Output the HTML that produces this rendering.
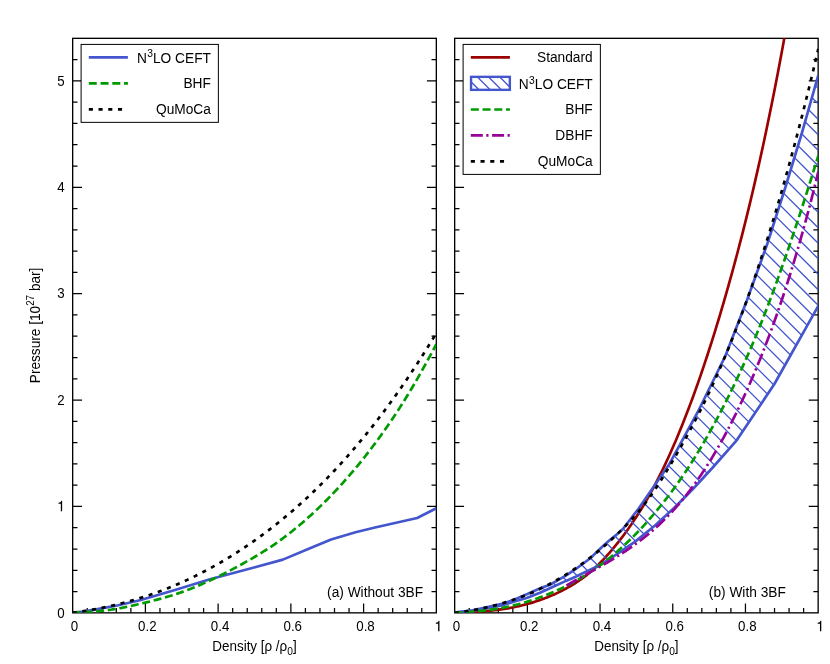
<!DOCTYPE html>
<html><head><meta charset="utf-8"><title>Pressure vs density</title>
<style>html,body{margin:0;padding:0;background:#fff;}svg{display:block;will-change:transform;opacity:0.999;}text{font-family:"Liberation Sans",sans-serif;fill:#000;}.t{font-size:13.33px;}.l{font-size:14.67px;}</style></head><body>
<svg width="830" height="664" viewBox="0 0 830 664">
<rect width="830" height="664" fill="#fff"/>
<defs>
<clipPath id="c1"><rect x="72.67" y="38.33" width="363.66" height="574.52"/></clipPath>
<clipPath id="c2"><rect x="454.67" y="38.33" width="363.48" height="574.52"/></clipPath>
<clipPath id="band"><path d="M454.67,612.67 L456.49,612.44 L458.31,612.20 L460.12,611.97 L461.94,611.73 L463.76,611.50 L465.58,611.27 L467.40,611.03 L469.22,610.80 L471.03,610.56 L472.85,610.33 L474.67,609.93 L476.49,609.52 L478.31,609.12 L480.13,608.71 L481.94,608.31 L483.76,607.91 L485.58,607.50 L487.40,607.10 L489.22,606.69 L491.04,606.29 L492.85,605.89 L494.67,605.49 L496.49,605.09 L498.31,604.69 L500.13,604.29 L501.95,603.90 L503.76,603.27 L505.58,602.64 L507.40,602.01 L509.22,601.38 L511.04,600.75 L512.86,600.12 L514.67,599.36 L516.49,598.60 L518.31,597.85 L520.13,597.09 L521.95,596.33 L523.77,595.57 L525.58,594.81 L527.40,594.06 L529.22,593.23 L531.04,592.41 L532.86,591.58 L534.68,590.76 L536.49,589.94 L538.31,589.11 L540.13,588.29 L541.95,587.46 L543.77,586.87 L545.59,586.27 L547.40,585.67 L549.22,585.08 L551.04,584.09 L552.86,583.07 L554.68,582.04 L556.49,581.01 L558.31,579.98 L560.13,578.94 L561.95,577.89 L563.77,576.84 L565.59,575.80 L567.40,574.64 L569.22,573.41 L571.04,572.18 L572.86,570.96 L574.68,569.71 L576.50,568.42 L578.31,567.12 L580.13,565.83 L581.95,564.54 L583.77,563.16 L585.59,561.77 L587.41,560.38 L589.22,558.99 L591.04,557.46 L592.86,555.76 L594.68,554.05 L596.50,552.35 L598.32,550.63 L600.13,548.85 L601.95,547.08 L603.77,545.45 L605.59,543.83 L607.41,542.22 L609.23,540.60 L611.04,539.13 L612.86,537.68 L614.68,536.23 L616.50,534.78 L618.32,533.14 L620.14,531.48 L621.95,529.83 L623.77,527.82 L625.59,525.47 L627.41,523.11 L629.23,520.76 L631.05,518.41 L632.86,516.05 L634.68,513.70 L636.50,511.35 L638.32,508.99 L640.14,506.39 L641.95,503.75 L643.77,501.12 L645.59,498.48 L647.41,495.85 L649.23,493.22 L651.05,490.58 L652.86,487.95 L654.68,485.31 L656.50,482.68 L658.32,480.05 L660.14,477.41 L661.96,474.78 L663.77,472.14 L665.59,469.51 L667.41,466.88 L669.23,464.24 L671.05,460.98 L672.87,457.65 L674.68,454.32 L676.50,450.98 L678.32,447.65 L680.14,444.32 L681.96,440.99 L683.78,437.66 L685.59,434.32 L687.41,430.99 L689.23,427.66 L691.05,424.33 L692.87,421.00 L694.69,417.66 L696.50,414.33 L698.32,410.89 L700.14,407.20 L701.96,403.50 L703.78,399.81 L705.60,396.12 L707.41,392.42 L709.23,388.73 L711.05,385.04 L712.87,381.34 L714.69,377.65 L716.51,373.95 L718.32,370.26 L720.14,366.57 L721.96,362.87 L723.78,359.18 L725.60,355.35 L727.41,350.66 L729.23,345.97 L731.05,341.28 L732.87,336.59 L734.69,331.90 L736.51,327.21 L738.32,322.52 L740.14,317.83 L741.96,313.14 L743.78,308.45 L745.60,303.76 L747.42,298.99 L749.23,293.95 L751.05,288.90 L752.87,283.86 L754.69,278.81 L756.51,273.77 L758.33,268.73 L760.14,263.68 L761.96,258.64 L763.78,253.59 L765.60,248.55 L767.42,243.44 L769.24,237.76 L771.05,232.08 L772.87,226.40 L774.69,220.72 L776.51,215.04 L778.33,209.36 L780.15,203.68 L781.96,198.00 L783.78,192.32 L785.60,186.57 L787.42,180.59 L789.24,174.61 L791.06,168.62 L792.87,162.64 L794.69,156.66 L796.51,150.67 L798.33,144.69 L800.15,138.71 L801.97,132.73 L803.78,126.36 L805.60,119.94 L807.42,113.53 L809.24,107.11 L811.06,100.69 L812.88,94.27 L814.69,87.86 L816.51,81.44 L818.33,75.02 L818.33,305.82 L816.51,309.06 L814.69,312.29 L812.88,315.53 L811.06,318.77 L809.24,322.00 L807.42,325.24 L805.60,328.47 L803.78,331.71 L801.97,334.95 L800.15,338.18 L798.33,341.42 L796.51,344.66 L794.69,347.89 L792.87,351.13 L791.06,354.36 L789.24,357.60 L787.42,360.84 L785.60,364.07 L783.78,367.31 L781.96,370.54 L780.15,373.78 L778.33,377.02 L776.51,380.25 L774.69,383.49 L772.87,386.29 L771.05,389.00 L769.24,391.71 L767.42,394.42 L765.60,397.14 L763.78,399.85 L761.96,402.56 L760.14,405.28 L758.33,407.99 L756.51,410.70 L754.69,413.42 L752.87,416.13 L751.05,418.84 L749.23,421.56 L747.42,424.27 L745.60,426.98 L743.78,429.70 L741.96,432.41 L740.14,435.12 L738.32,437.83 L736.51,440.42 L734.69,442.49 L732.87,444.56 L731.05,446.63 L729.23,448.70 L727.41,450.77 L725.60,452.84 L723.78,454.91 L721.96,456.98 L720.14,459.05 L718.32,461.12 L716.51,463.20 L714.69,465.27 L712.87,467.34 L711.05,469.34 L709.23,471.32 L707.41,473.29 L705.60,475.26 L703.78,477.24 L701.96,479.21 L700.14,481.18 L698.32,483.16 L696.50,485.13 L694.69,487.09 L692.87,488.96 L691.05,490.84 L689.23,492.71 L687.41,494.58 L685.59,496.46 L683.78,498.29 L681.96,500.11 L680.14,501.92 L678.32,503.73 L676.50,505.55 L674.68,507.36 L672.87,509.08 L671.05,510.75 L669.23,512.43 L667.41,514.10 L665.59,515.77 L663.77,517.45 L661.96,519.12 L660.14,520.79 L658.32,522.46 L656.50,524.14 L654.68,525.77 L652.86,527.25 L651.05,528.74 L649.23,530.22 L647.41,531.70 L645.59,533.18 L643.77,534.66 L641.95,536.14 L640.14,537.62 L638.32,539.10 L636.50,540.58 L634.68,541.96 L632.86,543.20 L631.05,544.45 L629.23,545.70 L627.41,546.94 L625.59,548.19 L623.77,549.43 L621.95,550.68 L620.14,551.93 L618.32,553.13 L616.50,554.31 L614.68,555.49 L612.86,556.67 L611.04,557.85 L609.23,559.03 L607.41,560.21 L605.59,561.39 L603.77,562.57 L601.95,563.75 L600.13,564.93 L598.32,565.84 L596.50,566.73 L594.68,567.61 L592.86,568.44 L591.04,569.27 L589.22,570.10 L587.41,570.92 L585.59,571.81 L583.77,572.73 L581.95,573.64 L580.13,574.55 L578.31,575.46 L576.50,576.37 L574.68,577.17 L572.86,577.95 L571.04,578.73 L569.22,579.51 L567.40,580.29 L565.59,581.08 L563.77,581.91 L561.95,582.74 L560.13,583.57 L558.31,584.40 L556.49,585.23 L554.68,586.06 L552.86,586.89 L551.04,587.72 L549.22,588.55 L547.40,589.38 L545.59,590.22 L543.77,591.05 L541.95,591.88 L540.13,592.71 L538.31,593.45 L536.49,594.17 L534.68,594.89 L532.86,595.61 L531.04,596.33 L529.22,597.06 L527.40,597.78 L525.58,598.31 L523.77,598.84 L521.95,599.38 L520.13,599.91 L518.31,600.44 L516.49,600.97 L514.67,601.50 L512.86,602.03 L511.04,602.60 L509.22,603.17 L507.40,603.74 L505.58,604.30 L503.76,604.87 L501.95,605.44 L500.13,605.79 L498.31,606.15 L496.49,606.50 L494.67,606.86 L492.85,607.21 L491.04,607.56 L489.22,607.88 L487.40,608.20 L485.58,608.52 L483.76,608.84 L481.94,609.16 L480.13,609.48 L478.31,609.80 L476.49,610.12 L474.67,610.44 L472.85,610.76 L471.03,610.95 L469.22,611.14 L467.40,611.33 L465.58,611.52 L463.76,611.71 L461.94,611.90 L460.12,612.10 L458.31,612.29 L456.49,612.48 L454.67,612.67Z"/></clipPath>
<clipPath id="lp"><rect x="471.2" y="76.8" width="38.6" height="12.8"/></clipPath>
</defs>
<path d="M87.22,612.85v-4.80M101.76,612.85v-4.80M116.31,612.85v-4.80M130.86,612.85v-4.80M145.40,612.85v-9.40M159.95,612.85v-4.80M174.49,612.85v-4.80M189.04,612.85v-4.80M203.59,612.85v-4.80M218.13,612.85v-9.40M232.68,612.85v-4.80M247.23,612.85v-4.80M261.77,612.85v-4.80M276.32,612.85v-4.80M290.87,612.85v-9.40M305.41,612.85v-4.80M319.96,612.85v-4.80M334.51,612.85v-4.80M349.05,612.85v-4.80M363.60,612.85v-9.40M378.14,612.85v-4.80M392.69,612.85v-4.80M407.24,612.85v-4.80M421.78,612.85v-4.80M72.67,591.57h4.80M436.33,591.57h-4.80M72.67,570.29h4.80M436.33,570.29h-4.80M72.67,549.01h4.80M436.33,549.01h-4.80M72.67,527.74h4.80M436.33,527.74h-4.80M72.67,506.46h9.40M436.33,506.46h-9.40M72.67,485.18h4.80M436.33,485.18h-4.80M72.67,463.90h4.80M436.33,463.90h-4.80M72.67,442.62h4.80M436.33,442.62h-4.80M72.67,421.34h4.80M436.33,421.34h-4.80M72.67,400.06h9.40M436.33,400.06h-9.40M72.67,378.79h4.80M436.33,378.79h-4.80M72.67,357.51h4.80M436.33,357.51h-4.80M72.67,336.23h4.80M436.33,336.23h-4.80M72.67,314.95h4.80M436.33,314.95h-4.80M72.67,293.67h9.40M436.33,293.67h-9.40M72.67,272.39h4.80M436.33,272.39h-4.80M72.67,251.12h4.80M436.33,251.12h-4.80M72.67,229.84h4.80M436.33,229.84h-4.80M72.67,208.56h4.80M436.33,208.56h-4.80M72.67,187.28h9.40M436.33,187.28h-9.40M72.67,166.00h4.80M436.33,166.00h-4.80M72.67,144.72h4.80M436.33,144.72h-4.80M72.67,123.44h4.80M436.33,123.44h-4.80M72.67,102.17h4.80M436.33,102.17h-4.80M72.67,80.89h9.40M436.33,80.89h-9.40M72.67,59.61h4.80M436.33,59.61h-4.80" stroke="#000" stroke-width="1.25" fill="none"/>
<rect x="72.67" y="38.33" width="363.66" height="574.52" fill="none" stroke="#000" stroke-width="1.33"/>
<text transform="translate(74.57,631.20) scale(1.000,1.100)" text-anchor="middle" class="t">0</text>
<text transform="translate(147.30,631.20) scale(1.000,1.100)" text-anchor="middle" class="t">0.2</text>
<text transform="translate(220.03,631.20) scale(1.000,1.100)" text-anchor="middle" class="t">0.4</text>
<text transform="translate(292.77,631.20) scale(1.000,1.100)" text-anchor="middle" class="t">0.6</text>
<text transform="translate(365.50,631.20) scale(1.000,1.100)" text-anchor="middle" class="t">0.8</text>
<path transform="translate(434.52,631.20) scale(0.01333,-0.01466)" d="M272,0 L371,0 L371,709 L312,709 C290,625 215,578 98,570 L98,507 L272,507 Z" fill="#000"/>
<text transform="translate(254.50,650.6) scale(0.915,1)" text-anchor="middle" class="l">Density [&#961; /&#961;<tspan dy="4.6" font-size="11.2px">0</tspan><tspan dy="-4.6">]</tspan></text>
<path d="M72.67,612.67 L83.58,611.61 L98.89,608.84 L118.20,605.30 L139.98,600.28 L175.00,589.96 L209.99,579.20 L255.01,567.25 L282.87,559.64 L309.99,548.29 L331.09,539.43 L355.56,532.27 L375.02,527.48 L417.17,517.96 L436.33,508.22" fill="none" stroke="#4456cd" stroke-width="2.67" stroke-linejoin="round" clip-path="url(#c1)"/>
<path d="M72.67,612.67 L74.49,612.59 L76.31,612.51 L78.12,612.42 L79.94,612.34 L81.76,612.25 L83.58,612.15 L85.40,612.05 L87.22,611.95 L89.03,611.84 L90.85,611.72 L92.67,611.59 L94.49,611.46 L96.31,611.31 L98.13,611.16 L99.94,610.99 L101.76,610.81 L103.58,610.62 L105.40,610.41 L107.22,610.19 L109.04,609.96 L110.85,609.71 L112.67,609.44 L114.49,609.15 L116.31,608.85 L118.13,608.53 L119.95,608.20 L121.76,607.85 L123.58,607.49 L125.40,607.12 L127.22,606.74 L129.04,606.35 L130.86,605.95 L132.67,605.54 L134.49,605.13 L136.31,604.71 L138.13,604.29 L139.95,603.87 L141.77,603.44 L143.58,603.01 L145.40,602.58 L147.22,602.14 L149.04,601.69 L150.86,601.24 L152.68,600.78 L154.49,600.32 L156.31,599.84 L158.13,599.36 L159.95,598.87 L161.77,598.37 L163.59,597.86 L165.40,597.35 L167.22,596.81 L169.04,596.27 L170.86,595.72 L172.68,595.15 L174.49,594.57 L176.31,593.98 L178.13,593.38 L179.95,592.75 L181.77,592.12 L183.59,591.47 L185.40,590.80 L187.22,590.12 L189.04,589.43 L190.86,588.72 L192.68,588.00 L194.50,587.26 L196.31,586.52 L198.13,585.76 L199.95,584.98 L201.77,584.20 L203.59,583.40 L205.41,582.59 L207.22,581.77 L209.04,580.93 L210.86,580.09 L212.68,579.23 L214.50,578.37 L216.32,577.49 L218.13,576.60 L219.95,575.70 L221.77,574.80 L223.59,573.88 L225.41,572.95 L227.23,572.02 L229.04,571.07 L230.86,570.12 L232.68,569.15 L234.50,568.18 L236.32,567.21 L238.14,566.22 L239.95,565.22 L241.77,564.22 L243.59,563.21 L245.41,562.20 L247.23,561.18 L249.05,560.14 L250.86,559.10 L252.68,558.05 L254.50,556.99 L256.32,555.91 L258.14,554.82 L259.95,553.72 L261.77,552.60 L263.59,551.47 L265.41,550.32 L267.23,549.16 L269.05,547.97 L270.86,546.77 L272.68,545.55 L274.50,544.31 L276.32,543.05 L278.14,541.76 L279.96,540.46 L281.77,539.14 L283.59,537.79 L285.41,536.43 L287.23,535.05 L289.05,533.64 L290.87,532.22 L292.68,530.77 L294.50,529.31 L296.32,527.82 L298.14,526.31 L299.96,524.79 L301.78,523.24 L303.59,521.67 L305.41,520.09 L307.23,518.48 L309.05,516.85 L310.87,515.20 L312.69,513.53 L314.50,511.84 L316.32,510.13 L318.14,508.40 L319.96,506.65 L321.78,504.88 L323.60,503.09 L325.41,501.28 L327.23,499.45 L329.05,497.60 L330.87,495.72 L332.69,493.83 L334.51,491.91 L336.32,489.98 L338.14,488.02 L339.96,486.04 L341.78,484.04 L343.60,482.02 L345.42,479.98 L347.23,477.91 L349.05,475.82 L350.87,473.71 L352.69,471.58 L354.51,469.42 L356.32,467.24 L358.14,465.04 L359.96,462.81 L361.78,460.56 L363.60,458.29 L365.42,455.99 L367.23,453.67 L369.05,451.32 L370.87,448.95 L372.69,446.55 L374.51,444.13 L376.33,441.68 L378.14,439.21 L379.96,436.71 L381.78,434.19 L383.60,431.64 L385.42,429.07 L387.24,426.46 L389.05,423.83 L390.87,421.17 L392.69,418.48 L394.51,415.75 L396.33,413.00 L398.15,410.22 L399.96,407.40 L401.78,404.55 L403.60,401.66 L405.42,398.75 L407.24,395.79 L409.06,392.80 L410.87,389.78 L412.69,386.72 L414.51,383.61 L416.33,380.48 L418.15,377.31 L419.97,374.11 L421.78,370.88 L423.60,367.62 L425.42,364.34 L427.24,361.03 L429.06,357.71 L430.88,354.37 L432.69,351.01 L434.51,347.64 L436.33,344.25" fill="none" stroke="#009a00" stroke-width="2.67" stroke-linejoin="round" stroke-dasharray="8 3.73" clip-path="url(#c1)"/>
<path d="M72.67,612.67 L74.49,612.44 L76.31,612.20 L78.12,611.95 L79.94,611.69 L81.76,611.42 L83.58,611.15 L85.40,610.86 L87.22,610.57 L89.03,610.27 L90.85,609.96 L92.67,609.64 L94.49,609.31 L96.31,608.98 L98.13,608.63 L99.94,608.28 L101.76,607.91 L103.58,607.54 L105.40,607.16 L107.22,606.77 L109.04,606.37 L110.85,605.96 L112.67,605.54 L114.49,605.11 L116.31,604.68 L118.13,604.23 L119.95,603.77 L121.76,603.31 L123.58,602.83 L125.40,602.35 L127.22,601.85 L129.04,601.35 L130.86,600.84 L132.67,600.31 L134.49,599.78 L136.31,599.24 L138.13,598.69 L139.95,598.12 L141.77,597.55 L143.58,596.97 L145.40,596.37 L147.22,595.77 L149.04,595.16 L150.86,594.54 L152.68,593.90 L154.49,593.26 L156.31,592.60 L158.13,591.94 L159.95,591.26 L161.77,590.58 L163.59,589.88 L165.40,589.18 L167.22,588.46 L169.04,587.73 L170.86,586.99 L172.68,586.24 L174.49,585.48 L176.31,584.71 L178.13,583.93 L179.95,583.13 L181.77,582.33 L183.59,581.52 L185.40,580.69 L187.22,579.85 L189.04,579.00 L190.86,578.14 L192.68,577.27 L194.50,576.39 L196.31,575.50 L198.13,574.59 L199.95,573.68 L201.77,572.75 L203.59,571.81 L205.41,570.86 L207.22,569.89 L209.04,568.92 L210.86,567.93 L212.68,566.94 L214.50,565.93 L216.32,564.90 L218.13,563.87 L219.95,562.82 L221.77,561.77 L223.59,560.70 L225.41,559.62 L227.23,558.52 L229.04,557.42 L230.86,556.30 L232.68,555.17 L234.50,554.03 L236.32,552.87 L238.14,551.70 L239.95,550.52 L241.77,549.33 L243.59,548.13 L245.41,546.91 L247.23,545.68 L249.05,544.43 L250.86,543.18 L252.68,541.91 L254.50,540.63 L256.32,539.33 L258.14,538.03 L259.95,536.71 L261.77,535.37 L263.59,534.03 L265.41,532.67 L267.23,531.30 L269.05,529.91 L270.86,528.51 L272.68,527.10 L274.50,525.68 L276.32,524.24 L278.14,522.78 L279.96,521.32 L281.77,519.84 L283.59,518.34 L285.41,516.84 L287.23,515.31 L289.05,513.78 L290.87,512.23 L292.68,510.66 L294.50,509.08 L296.32,507.49 L298.14,505.88 L299.96,504.26 L301.78,502.62 L303.59,500.97 L305.41,499.30 L307.23,497.61 L309.05,495.91 L310.87,494.20 L312.69,492.47 L314.50,490.72 L316.32,488.96 L318.14,487.19 L319.96,485.39 L321.78,483.59 L323.60,481.76 L325.41,479.92 L327.23,478.06 L329.05,476.19 L330.87,474.30 L332.69,472.39 L334.51,470.47 L336.32,468.53 L338.14,466.57 L339.96,464.60 L341.78,462.61 L343.60,460.60 L345.42,458.57 L347.23,456.53 L349.05,454.47 L350.87,452.39 L352.69,450.29 L354.51,448.18 L356.32,446.05 L358.14,443.90 L359.96,441.73 L361.78,439.55 L363.60,437.34 L365.42,435.12 L367.23,432.88 L369.05,430.62 L370.87,428.34 L372.69,426.05 L374.51,423.73 L376.33,421.40 L378.14,419.04 L379.96,416.67 L381.78,414.28 L383.60,411.87 L385.42,409.44 L387.24,406.99 L389.05,404.52 L390.87,402.03 L392.69,399.52 L394.51,396.99 L396.33,394.44 L398.15,391.87 L399.96,389.28 L401.78,386.67 L403.60,384.04 L405.42,381.39 L407.24,378.71 L409.06,376.02 L410.87,373.31 L412.69,370.57 L414.51,367.82 L416.33,365.04 L418.15,362.24 L419.97,359.42 L421.78,356.58 L423.60,353.72 L425.42,350.84 L427.24,347.93 L429.06,345.00 L430.88,342.05 L432.69,339.08 L434.51,336.09 L436.33,333.07" fill="none" stroke="#000000" stroke-width="2.67" stroke-linejoin="round" stroke-dasharray="4.1 5.652" clip-path="url(#c1)"/>
<text transform="translate(423.10,596.50) scale(1.030,1.100)" text-anchor="end" class="t">(a) Without 3BF</text>
<text transform="translate(39.7,325.4) rotate(-90) scale(0.93,1)" text-anchor="middle" class="l">Pressure [10<tspan dy="-6.2" font-size="10.6px">27</tspan><tspan dy="6.2"> bar]</tspan></text>
<text transform="translate(64.60,617.55) scale(1.000,1.100)" text-anchor="end" class="t">0</text>
<path transform="translate(57.19,511.16) scale(0.01333,-0.01466)" d="M272,0 L371,0 L371,709 L312,709 C290,625 215,578 98,570 L98,507 L272,507 Z" fill="#000"/>
<text transform="translate(64.60,404.76) scale(1.000,1.100)" text-anchor="end" class="t">2</text>
<text transform="translate(64.60,298.37) scale(1.000,1.100)" text-anchor="end" class="t">3</text>
<text transform="translate(64.60,191.98) scale(1.000,1.100)" text-anchor="end" class="t">4</text>
<text transform="translate(64.60,85.59) scale(1.000,1.100)" text-anchor="end" class="t">5</text>
<rect x="81.1" y="44.4" width="137.26" height="77.95" fill="#fff" stroke="#000" stroke-width="1"/>
<path d="M88.8,57.3H127.9" fill="none" stroke="#4456cd" stroke-width="2.67" stroke-linejoin="round"/>
<path d="M88.8,83.3H127.9" fill="none" stroke="#009a00" stroke-width="2.67" stroke-linejoin="round" stroke-dasharray="8 3.75"/>
<path d="M88.8,109.4H127.3" fill="none" stroke="#000000" stroke-width="2.67" stroke-linejoin="round" stroke-dasharray="4.1 5.62"/>
<text transform="translate(210.90,62.60) scale(1.030,1.100)" text-anchor="end" class="t">N<tspan dy="-5.0" dx="0.3" font-size="10px">3</tspan><tspan dy="5.0">LO CEFT</tspan></text>
<text transform="translate(210.90,87.65) scale(1.030,1.100)" text-anchor="end" class="t">BHF</text>
<text transform="translate(210.90,113.90) scale(1.030,1.100)" text-anchor="end" class="t">QuMoCa</text>
<path d="M469.21,612.85v-4.80M483.75,612.85v-4.80M498.29,612.85v-4.80M512.83,612.85v-4.80M527.37,612.85v-9.40M541.91,612.85v-4.80M556.44,612.85v-4.80M570.98,612.85v-4.80M585.52,612.85v-4.80M600.06,612.85v-9.40M614.60,612.85v-4.80M629.14,612.85v-4.80M643.68,612.85v-4.80M658.22,612.85v-4.80M672.76,612.85v-9.40M687.30,612.85v-4.80M701.84,612.85v-4.80M716.38,612.85v-4.80M730.91,612.85v-4.80M745.45,612.85v-9.40M759.99,612.85v-4.80M774.53,612.85v-4.80M789.07,612.85v-4.80M803.61,612.85v-4.80M454.67,591.57h4.80M818.15,591.57h-4.80M454.67,570.29h4.80M818.15,570.29h-4.80M454.67,549.01h4.80M818.15,549.01h-4.80M454.67,527.74h4.80M818.15,527.74h-4.80M454.67,506.46h9.40M818.15,506.46h-9.40M454.67,485.18h4.80M818.15,485.18h-4.80M454.67,463.90h4.80M818.15,463.90h-4.80M454.67,442.62h4.80M818.15,442.62h-4.80M454.67,421.34h4.80M818.15,421.34h-4.80M454.67,400.06h9.40M818.15,400.06h-9.40M454.67,378.79h4.80M818.15,378.79h-4.80M454.67,357.51h4.80M818.15,357.51h-4.80M454.67,336.23h4.80M818.15,336.23h-4.80M454.67,314.95h4.80M818.15,314.95h-4.80M454.67,293.67h9.40M818.15,293.67h-9.40M454.67,272.39h4.80M818.15,272.39h-4.80M454.67,251.12h4.80M818.15,251.12h-4.80M454.67,229.84h4.80M818.15,229.84h-4.80M454.67,208.56h4.80M818.15,208.56h-4.80M454.67,187.28h9.40M818.15,187.28h-9.40M454.67,166.00h4.80M818.15,166.00h-4.80M454.67,144.72h4.80M818.15,144.72h-4.80M454.67,123.44h4.80M818.15,123.44h-4.80M454.67,102.17h4.80M818.15,102.17h-4.80M454.67,80.89h9.40M818.15,80.89h-9.40M454.67,59.61h4.80M818.15,59.61h-4.80" stroke="#000" stroke-width="1.25" fill="none"/>
<rect x="454.67" y="38.33" width="363.48" height="574.52" fill="none" stroke="#000" stroke-width="1.33"/>
<text transform="translate(456.57,631.20) scale(1.000,1.100)" text-anchor="middle" class="t">0</text>
<text transform="translate(529.27,631.20) scale(1.000,1.100)" text-anchor="middle" class="t">0.2</text>
<text transform="translate(601.96,631.20) scale(1.000,1.100)" text-anchor="middle" class="t">0.4</text>
<text transform="translate(674.66,631.20) scale(1.000,1.100)" text-anchor="middle" class="t">0.6</text>
<text transform="translate(747.35,631.20) scale(1.000,1.100)" text-anchor="middle" class="t">0.8</text>
<path transform="translate(816.34,631.20) scale(0.01333,-0.01466)" d="M272,0 L371,0 L371,709 L312,709 C290,625 215,578 98,570 L98,507 L272,507 Z" fill="#000"/>
<text transform="translate(636.41,650.6) scale(0.915,1)" text-anchor="middle" class="l">Density [&#961; /&#961;<tspan dy="4.6" font-size="11.2px">0</tspan><tspan dy="-4.6">]</tspan></text>
<path d="M454.67,612.67 L456.32,612.63 L457.97,612.59 L459.62,612.55 L461.27,612.50 L462.92,612.44 L464.56,612.39 L466.21,612.32 L467.86,612.26 L469.51,612.18 L471.16,612.10 L472.81,612.02 L474.46,611.93 L476.11,611.83 L477.76,611.73 L479.41,611.62 L481.05,611.50 L482.70,611.37 L484.35,611.24 L486.00,611.10 L487.65,610.95 L489.30,610.79 L490.95,610.62 L492.60,610.44 L494.25,610.25 L495.90,610.05 L497.54,609.85 L499.19,609.63 L500.84,609.40 L502.49,609.16 L504.14,608.91 L505.79,608.64 L507.44,608.37 L509.09,608.08 L510.74,607.78 L512.39,607.47 L514.03,607.14 L515.68,606.80 L517.33,606.45 L518.98,606.08 L520.63,605.70 L522.28,605.31 L523.93,604.90 L525.58,604.47 L527.23,604.03 L528.88,603.58 L530.52,603.10 L532.17,602.61 L533.82,602.11 L535.47,601.59 L537.12,601.05 L538.77,600.49 L540.42,599.92 L542.07,599.33 L543.72,598.72 L545.37,598.09 L547.01,597.44 L548.66,596.77 L550.31,596.09 L551.96,595.38 L553.61,594.66 L555.26,593.91 L556.91,593.14 L558.56,592.36 L560.21,591.55 L561.86,590.72 L563.51,589.87 L565.15,588.99 L566.80,588.10 L568.45,587.18 L570.10,586.24 L571.75,585.27 L573.40,584.28 L575.05,583.26 L576.70,582.21 L578.35,581.13 L580.00,580.01 L581.64,578.86 L583.29,577.66 L584.94,576.43 L586.59,575.15 L588.24,573.83 L589.89,572.46 L591.54,571.04 L593.19,569.57 L594.84,568.05 L596.49,566.49 L598.13,564.89 L599.78,563.24 L601.43,561.54 L603.08,559.81 L604.73,558.04 L606.38,556.24 L608.03,554.39 L609.68,552.52 L611.33,550.60 L612.98,548.66 L614.62,546.68 L616.27,544.66 L617.92,542.60 L619.57,540.51 L621.22,538.38 L622.87,536.21 L624.52,533.99 L626.17,531.74 L627.82,529.44 L629.47,527.10 L631.11,524.72 L632.76,522.29 L634.41,519.82 L636.06,517.30 L637.71,514.73 L639.36,512.12 L641.01,509.45 L642.66,506.74 L644.31,503.97 L645.96,501.16 L647.60,498.29 L649.25,495.37 L650.90,492.39 L652.55,489.36 L654.20,486.28 L655.85,483.14 L657.50,479.94 L659.15,476.69 L660.80,473.37 L662.45,470.00 L664.10,466.57 L665.74,463.09 L667.39,459.54 L669.04,455.93 L670.69,452.27 L672.34,448.55 L673.99,444.76 L675.64,440.92 L677.29,437.02 L678.94,433.06 L680.59,429.03 L682.23,424.95 L683.88,420.81 L685.53,416.61 L687.18,412.35 L688.83,408.03 L690.48,403.64 L692.13,399.20 L693.78,394.69 L695.43,390.13 L697.08,385.50 L698.72,380.82 L700.37,376.07 L702.02,371.26 L703.67,366.39 L705.32,361.45 L706.97,356.46 L708.62,351.40 L710.27,346.28 L711.92,341.10 L713.57,335.86 L715.21,330.55 L716.86,325.19 L718.51,319.76 L720.16,314.26 L721.81,308.71 L723.46,303.09 L725.11,297.41 L726.76,291.66 L728.41,285.85 L730.06,279.98 L731.70,274.03 L733.35,268.02 L735.00,261.93 L736.65,255.76 L738.30,249.53 L739.95,243.21 L741.60,236.82 L743.25,230.34 L744.90,223.78 L746.55,217.14 L748.19,210.41 L749.84,203.59 L751.49,196.69 L753.14,189.69 L754.79,182.60 L756.44,175.41 L758.09,168.13 L759.74,160.74 L761.39,153.26 L763.04,145.68 L764.69,137.99 L766.33,130.20 L767.98,122.31 L769.63,114.30 L771.28,106.20 L772.93,97.98 L774.58,89.66 L776.23,81.22 L777.88,72.68 L779.53,64.02 L781.18,55.25 L782.82,46.37 L784.47,37.37" fill="none" stroke="#9c0000" stroke-width="2.67" stroke-linejoin="round" clip-path="url(#c2)"/>
<path d="M454.67,-709.21L818.15,-345.73M454.67,-693.71L818.15,-330.23M454.67,-678.21L818.15,-314.73M454.67,-662.71L818.15,-299.23M454.67,-647.21L818.15,-283.73M454.67,-631.71L818.15,-268.23M454.67,-616.21L818.15,-252.73M454.67,-600.71L818.15,-237.23M454.67,-585.21L818.15,-221.73M454.67,-569.71L818.15,-206.23M454.67,-554.21L818.15,-190.73M454.67,-538.71L818.15,-175.23M454.67,-523.21L818.15,-159.73M454.67,-507.71L818.15,-144.23M454.67,-492.21L818.15,-128.73M454.67,-476.71L818.15,-113.23M454.67,-461.21L818.15,-97.73M454.67,-445.71L818.15,-82.23M454.67,-430.21L818.15,-66.73M454.67,-414.71L818.15,-51.23M454.67,-399.21L818.15,-35.73M454.67,-383.71L818.15,-20.23M454.67,-368.21L818.15,-4.73M454.67,-352.71L818.15,10.77M454.67,-337.21L818.15,26.27M454.67,-321.71L818.15,41.77M454.67,-306.21L818.15,57.27M454.67,-290.71L818.15,72.77M454.67,-275.21L818.15,88.27M454.67,-259.71L818.15,103.77M454.67,-244.21L818.15,119.27M454.67,-228.71L818.15,134.77M454.67,-213.21L818.15,150.27M454.67,-197.71L818.15,165.77M454.67,-182.21L818.15,181.27M454.67,-166.71L818.15,196.77M454.67,-151.21L818.15,212.27M454.67,-135.71L818.15,227.77M454.67,-120.21L818.15,243.27M454.67,-104.71L818.15,258.77M454.67,-89.21L818.15,274.27M454.67,-73.71L818.15,289.77M454.67,-58.21L818.15,305.27M454.67,-42.71L818.15,320.77M454.67,-27.21L818.15,336.27M454.67,-11.71L818.15,351.77M454.67,3.79L818.15,367.27M454.67,19.29L818.15,382.77M454.67,34.79L818.15,398.27M454.67,50.29L818.15,413.77M454.67,65.79L818.15,429.27M454.67,81.29L818.15,444.77M454.67,96.79L818.15,460.27M454.67,112.29L818.15,475.77M454.67,127.79L818.15,491.27M454.67,143.29L818.15,506.77M454.67,158.79L818.15,522.27M454.67,174.29L818.15,537.77M454.67,189.79L818.15,553.27M454.67,205.29L818.15,568.77M454.67,220.79L818.15,584.27M454.67,236.29L818.15,599.77M454.67,251.79L818.15,615.27M454.67,267.29L818.15,630.77M454.67,282.79L818.15,646.27M454.67,298.29L818.15,661.77M454.67,313.79L818.15,677.27M454.67,329.29L818.15,692.77M454.67,344.79L818.15,708.27M454.67,360.29L818.15,723.77M454.67,375.79L818.15,739.27M454.67,391.29L818.15,754.77M454.67,406.79L818.15,770.27M454.67,422.29L818.15,785.77M454.67,437.79L818.15,801.27M454.67,453.29L818.15,816.77M454.67,468.79L818.15,832.27M454.67,484.29L818.15,847.77M454.67,499.79L818.15,863.27M454.67,515.29L818.15,878.77" stroke="#4456cd" stroke-width="1.33" fill="none" clip-path="url(#band)"/>
<path d="M454.67,612.67 L472.85,610.76 L491.04,607.56 L501.95,605.44 L512.86,602.03 L527.40,597.78 L539.98,592.78 L547.19,589.48 L565.99,580.90 L576.13,576.55 L587.01,571.10 L594.93,567.50 L599.99,565.02 L619.59,552.30 L635.48,541.41 L655.01,525.51 L674.03,508.01 L684.87,497.21 L695.01,486.75 L712.29,468.00 L736.87,440.01 L774.40,384.01 L818.33,305.82" fill="none" stroke="#4456cd" stroke-width="2.67" stroke-linejoin="round" clip-path="url(#c2)"/>
<path d="M454.67,612.67 L472.85,610.33 L491.04,606.29 L501.95,603.90 L512.86,600.12 L527.40,594.06 L541.95,587.46 L549.40,585.02 L557.69,580.34 L566.20,575.44 L574.10,570.13 L582.31,564.28 L590.24,558.21 L597.84,551.09 L602.21,546.83 L609.52,540.35 L616.72,534.60 L622.86,529.00 L638.50,508.76 L669.41,463.98 L697.78,412.00 L725.34,356.00 L747.05,300.00 L767.24,244.00 L785.16,188.01 L802.18,132.01 L818.33,75.02" fill="none" stroke="#4456cd" stroke-width="2.67" stroke-linejoin="round" clip-path="url(#c2)"/>
<path d="M454.67,612.67 L456.49,612.59 L458.31,612.50 L460.12,612.40 L461.94,612.30 L463.76,612.20 L465.58,612.09 L467.40,611.97 L469.22,611.85 L471.03,611.72 L472.85,611.58 L474.67,611.43 L476.49,611.27 L478.31,611.11 L480.13,610.93 L481.94,610.74 L483.76,610.55 L485.58,610.34 L487.40,610.12 L489.22,609.89 L491.04,609.64 L492.85,609.39 L494.67,609.12 L496.49,608.83 L498.31,608.53 L500.13,608.22 L501.95,607.89 L503.76,607.55 L505.58,607.19 L507.40,606.81 L509.22,606.42 L511.04,606.01 L512.86,605.59 L514.67,605.15 L516.49,604.69 L518.31,604.22 L520.13,603.74 L521.95,603.23 L523.77,602.71 L525.58,602.18 L527.40,601.63 L529.22,601.06 L531.04,600.48 L532.86,599.88 L534.68,599.27 L536.49,598.64 L538.31,597.99 L540.13,597.33 L541.95,596.65 L543.77,595.96 L545.59,595.25 L547.40,594.52 L549.22,593.78 L551.04,593.02 L552.86,592.24 L554.68,591.44 L556.49,590.63 L558.31,589.80 L560.13,588.95 L561.95,588.08 L563.77,587.20 L565.59,586.29 L567.40,585.37 L569.22,584.42 L571.04,583.46 L572.86,582.47 L574.68,581.47 L576.50,580.45 L578.31,579.40 L580.13,578.33 L581.95,577.25 L583.77,576.14 L585.59,575.01 L587.41,573.85 L589.22,572.68 L591.04,571.48 L592.86,570.26 L594.68,569.02 L596.50,567.75 L598.32,566.46 L600.13,565.14 L601.95,563.80 L603.77,562.44 L605.59,561.05 L607.41,559.63 L609.23,558.19 L611.04,556.73 L612.86,555.23 L614.68,553.71 L616.50,552.17 L618.32,550.59 L620.14,548.99 L621.95,547.36 L623.77,545.71 L625.59,544.02 L627.41,542.31 L629.23,540.56 L631.05,538.79 L632.86,536.99 L634.68,535.16 L636.50,533.30 L638.32,531.41 L640.14,529.49 L641.95,527.54 L643.77,525.57 L645.59,523.56 L647.41,521.53 L649.23,519.46 L651.05,517.37 L652.86,515.25 L654.68,513.10 L656.50,510.92 L658.32,508.71 L660.14,506.48 L661.96,504.21 L663.77,501.91 L665.59,499.59 L667.41,497.23 L669.23,494.84 L671.05,492.41 L672.87,489.96 L674.68,487.46 L676.50,484.94 L678.32,482.37 L680.14,479.77 L681.96,477.13 L683.78,474.46 L685.59,471.74 L687.41,468.99 L689.23,466.20 L691.05,463.37 L692.87,460.50 L694.69,457.60 L696.50,454.65 L698.32,451.67 L700.14,448.65 L701.96,445.59 L703.78,442.49 L705.60,439.36 L707.41,436.18 L709.23,432.97 L711.05,429.71 L712.87,426.42 L714.69,423.09 L716.51,419.71 L718.32,416.30 L720.14,412.85 L721.96,409.36 L723.78,405.83 L725.60,402.25 L727.41,398.64 L729.23,394.98 L731.05,391.28 L732.87,387.54 L734.69,383.75 L736.51,379.92 L738.32,376.03 L740.14,372.10 L741.96,368.12 L743.78,364.09 L745.60,360.01 L747.42,355.88 L749.23,351.69 L751.05,347.46 L752.87,343.16 L754.69,338.82 L756.51,334.42 L758.33,329.96 L760.14,325.45 L761.96,320.89 L763.78,316.27 L765.60,311.60 L767.42,306.87 L769.24,302.09 L771.05,297.26 L772.87,292.37 L774.69,287.43 L776.51,282.43 L778.33,277.39 L780.15,272.30 L781.96,267.16 L783.78,261.97 L785.60,256.74 L787.42,251.46 L789.24,246.14 L791.06,240.77 L792.87,235.35 L794.69,229.90 L796.51,224.40 L798.33,218.87 L800.15,213.29 L801.97,207.68 L803.78,202.03 L805.60,196.34 L807.42,190.62 L809.24,184.86 L811.06,179.06 L812.88,173.24 L814.69,167.38 L816.51,161.49 L818.33,155.57" fill="none" stroke="#009a00" stroke-width="2.67" stroke-linejoin="round" stroke-dasharray="8 3.715" clip-path="url(#c2)"/>
<path d="M566.39,585.58 L567.65,584.85 L568.91,584.12 L570.17,583.39 L571.43,582.67 L572.68,581.95 L573.94,581.24 L575.20,580.53 L576.46,579.82 L577.72,579.11 L578.98,578.40 L580.24,577.70 L581.50,577.00 L582.76,576.29 L584.02,575.59 L585.28,574.89 L586.54,574.19 L587.80,573.49 L589.06,572.79 L590.32,572.09 L591.58,571.39 L592.84,570.68 L594.10,569.98 L595.36,569.27 L596.62,568.56 L597.88,567.85 L599.14,567.14 L600.40,566.42 L601.66,565.70 L602.92,564.98 L604.18,564.25 L605.44,563.52 L606.70,562.78 L607.96,562.04 L609.22,561.30 L610.48,560.55 L611.74,559.79 L613.00,559.03 L614.26,558.26 L615.52,557.49 L616.78,556.71 L618.03,555.92 L619.29,555.13 L620.55,554.32 L621.81,553.51 L623.07,552.70 L624.33,551.87 L625.59,551.04 L626.85,550.19 L628.11,549.34 L629.37,548.48 L630.63,547.61 L631.89,546.73 L633.15,545.83 L634.41,544.93 L635.67,544.02 L636.93,543.10 L638.19,542.16 L639.45,541.21 L640.71,540.25 L641.97,539.28 L643.23,538.30 L644.49,537.30 L645.75,536.29 L647.01,535.27 L648.27,534.23 L649.53,533.18 L650.79,532.12 L652.05,531.04 L653.31,529.94 L654.57,528.83 L655.83,527.71 L657.09,526.57 L658.35,525.41 L659.61,524.24 L660.87,523.05 L662.12,521.84 L663.38,520.62 L664.64,519.38 L665.90,518.12 L667.16,516.85 L668.42,515.55 L669.68,514.24 L670.94,512.91 L672.20,511.56 L673.46,510.19 L674.72,508.80 L675.98,507.39 L677.24,505.96 L678.50,504.51 L679.76,503.04 L681.02,501.55 L682.28,500.04 L683.54,498.51 L684.80,496.95 L686.06,495.37 L687.32,493.77 L688.58,492.15 L689.84,490.50 L691.10,488.83 L692.36,487.14 L693.62,485.43 L694.88,483.69 L696.14,481.93 L697.40,480.15 L698.66,478.34 L699.92,476.51 L701.18,474.65 L702.44,472.77 L703.70,470.87 L704.96,468.94 L706.22,466.99 L707.47,465.02 L708.73,463.02 L709.99,460.99 L711.25,458.95 L712.51,456.87 L713.77,454.77 L715.03,452.65 L716.29,450.50 L717.55,448.32 L718.81,446.12 L720.07,443.90 L721.33,441.65 L722.59,439.37 L723.85,437.07 L725.11,434.74 L726.37,432.38 L727.63,430.00 L728.89,427.59 L730.15,425.15 L731.41,422.69 L732.67,420.20 L733.93,417.69 L735.19,415.15 L736.45,412.58 L737.71,409.98 L738.97,407.35 L740.23,404.70 L741.49,402.02 L742.75,399.31 L744.01,396.58 L745.27,393.81 L746.53,391.02 L747.79,388.20 L749.05,385.35 L750.31,382.47 L751.56,379.57 L752.82,376.63 L754.08,373.67 L755.34,370.67 L756.60,367.64 L757.86,364.59 L759.12,361.50 L760.38,358.38 L761.64,355.22 L762.90,352.04 L764.16,348.82 L765.42,345.56 L766.68,342.28 L767.94,338.96 L769.20,335.60 L770.46,332.21 L771.72,328.78 L772.98,325.31 L774.24,321.81 L775.50,318.27 L776.76,314.69 L778.02,311.08 L779.28,307.42 L780.54,303.73 L781.80,300.00 L783.06,296.22 L784.32,292.41 L785.58,288.56 L786.84,284.66 L788.10,280.72 L789.36,276.74 L790.62,272.72 L791.88,268.65 L793.14,264.54 L794.40,260.39 L795.66,256.19 L796.91,251.94 L798.17,247.64 L799.43,243.30 L800.69,238.90 L801.95,234.46 L803.21,229.96 L804.47,225.41 L805.73,220.80 L806.99,216.14 L808.25,211.42 L809.51,206.65 L810.77,201.82 L812.03,196.92 L813.29,191.97 L814.55,186.96 L815.81,181.88 L817.07,176.75 L818.33,171.54" fill="none" stroke="#96009a" stroke-width="2.67" stroke-linejoin="round" stroke-dasharray="12.1 3.53 2.2 3.62" clip-path="url(#c2)"/>
<path d="M454.67,612.67 L456.49,612.47 L458.31,612.25 L460.12,612.03 L461.94,611.79 L463.76,611.54 L465.58,611.28 L467.40,611.01 L469.22,610.72 L471.03,610.43 L472.85,610.12 L474.67,609.80 L476.49,609.46 L478.31,609.12 L480.13,608.76 L481.94,608.39 L483.76,608.00 L485.58,607.61 L487.40,607.20 L489.22,606.77 L491.04,606.33 L492.85,605.88 L494.67,605.41 L496.49,604.93 L498.31,604.44 L500.13,603.93 L501.95,603.41 L503.76,602.87 L505.58,602.32 L507.40,601.75 L509.22,601.17 L511.04,600.57 L512.86,599.96 L514.67,599.33 L516.49,598.68 L518.31,598.02 L520.13,597.35 L521.95,596.65 L523.77,595.95 L525.58,595.22 L527.40,594.48 L529.22,593.72 L531.04,592.95 L532.86,592.15 L534.68,591.35 L536.49,590.52 L538.31,589.68 L540.13,588.81 L541.95,587.94 L543.77,587.04 L545.59,586.12 L547.40,585.19 L549.22,584.24 L551.04,583.27 L552.86,582.28 L554.68,581.28 L556.49,580.25 L558.31,579.21 L560.13,578.14 L561.95,577.06 L563.77,575.96 L565.59,574.83 L567.40,573.69 L569.22,572.53 L571.04,571.35 L572.86,570.15 L574.68,568.93 L576.50,567.68 L578.31,566.42 L580.13,565.14 L581.95,563.83 L583.77,562.51 L585.59,561.16 L587.41,559.79 L589.22,558.40 L591.04,556.99 L592.86,555.56 L594.68,554.10 L596.50,552.63 L598.32,551.13 L600.13,549.61 L601.95,548.06 L603.77,546.50 L605.59,544.91 L607.41,543.30 L609.23,541.66 L611.04,540.00 L612.86,538.32 L614.68,536.62 L616.50,534.89 L618.32,533.14 L620.14,531.36 L621.95,529.56 L623.77,527.73 L625.59,525.87 L627.41,523.98 L629.23,522.06 L631.05,520.09 L632.86,518.09 L634.68,516.04 L636.50,513.95 L638.32,511.81 L640.14,509.62 L641.95,507.38 L643.77,505.08 L645.59,502.72 L647.41,500.30 L649.23,497.82 L651.05,495.27 L652.86,492.66 L654.68,489.98 L656.50,487.25 L658.32,484.46 L660.14,481.62 L661.96,478.73 L663.77,475.80 L665.59,472.83 L667.41,469.82 L669.23,466.79 L671.05,463.72 L672.87,460.64 L674.68,457.53 L676.50,454.40 L678.32,451.24 L680.14,448.06 L681.96,444.85 L683.78,441.61 L685.59,438.33 L687.41,435.03 L689.23,431.68 L691.05,428.31 L692.87,424.89 L694.69,421.44 L696.50,417.94 L698.32,414.40 L700.14,410.82 L701.96,407.19 L703.78,403.51 L705.60,399.78 L707.41,396.00 L709.23,392.17 L711.05,388.29 L712.87,384.35 L714.69,380.36 L716.51,376.31 L718.32,372.20 L720.14,368.04 L721.96,363.83 L723.78,359.55 L725.60,355.22 L727.41,350.83 L729.23,346.39 L731.05,341.88 L732.87,337.32 L734.69,332.70 L736.51,328.01 L738.32,323.27 L740.14,318.47 L741.96,313.60 L743.78,308.68 L745.60,303.69 L747.42,298.64 L749.23,293.53 L751.05,288.35 L752.87,283.11 L754.69,277.81 L756.51,272.44 L758.33,267.01 L760.14,261.51 L761.96,255.95 L763.78,250.32 L765.60,244.63 L767.42,238.87 L769.24,233.04 L771.05,227.15 L772.87,221.18 L774.69,215.15 L776.51,209.05 L778.33,202.88 L780.15,196.64 L781.96,190.33 L783.78,183.95 L785.60,177.50 L787.42,170.98 L789.24,164.38 L791.06,157.72 L792.87,150.98 L794.69,144.17 L796.51,137.29 L798.33,130.33 L800.15,123.30 L801.97,116.19 L803.78,109.01 L805.60,101.75 L807.42,94.42 L809.24,87.01 L811.06,79.52 L812.88,71.96 L814.69,64.32 L816.51,56.61 L818.33,48.81" fill="none" stroke="#000000" stroke-width="2.67" stroke-linejoin="round" stroke-dasharray="4.1 5.645" clip-path="url(#c2)"/>
<text transform="translate(785.80,596.50) scale(1.030,1.100)" text-anchor="end" class="t">(b) With 3BF</text>
<rect x="463.1" y="44.4" width="137.26" height="130.0" fill="#fff" stroke="#000" stroke-width="1"/>
<path d="M470.8,57.3H509.9" fill="none" stroke="#9c0000" stroke-width="2.67" stroke-linejoin="round"/>
<path d="M460.00,93.20L520.00,153.20M460.00,82.00L520.00,142.00M460.00,70.80L520.00,130.80M460.00,59.60L520.00,119.60M460.00,48.40L520.00,108.40M460.00,37.20L520.00,97.20M460.00,26.00L520.00,86.00M460.00,14.80L520.00,74.80" stroke="#4456cd" stroke-width="1.33" fill="none" clip-path="url(#lp)"/>
<rect x="471.05" y="76.85" width="38.8" height="13.0" fill="none" stroke="#4456cd" stroke-width="2.40"/>
<path d="M470.8,109.5H509.9" fill="none" stroke="#009a00" stroke-width="2.67" stroke-linejoin="round" stroke-dasharray="8 3.75"/>
<path d="M470.8,135.4H509.9" fill="none" stroke="#96009a" stroke-width="2.67" stroke-linejoin="round" stroke-dasharray="12 3.5 2.2 3.57"/>
<path d="M470.8,161.4H509.3" fill="none" stroke="#000000" stroke-width="2.67" stroke-linejoin="round" stroke-dasharray="4.1 5.62"/>
<text transform="translate(592.70,61.65) scale(1.030,1.100)" text-anchor="end" class="t">Standard</text>
<text transform="translate(592.70,89.15) scale(1.030,1.100)" text-anchor="end" class="t">N<tspan dy="-5.0" dx="0.3" font-size="10px">3</tspan><tspan dy="5.0">LO CEFT</tspan></text>
<text transform="translate(592.70,113.65) scale(1.030,1.100)" text-anchor="end" class="t">BHF</text>
<text transform="translate(592.70,139.60) scale(1.030,1.100)" text-anchor="end" class="t">DBHF</text>
<text transform="translate(592.70,165.95) scale(1.030,1.100)" text-anchor="end" class="t">QuMoCa</text>
</svg></body></html>
